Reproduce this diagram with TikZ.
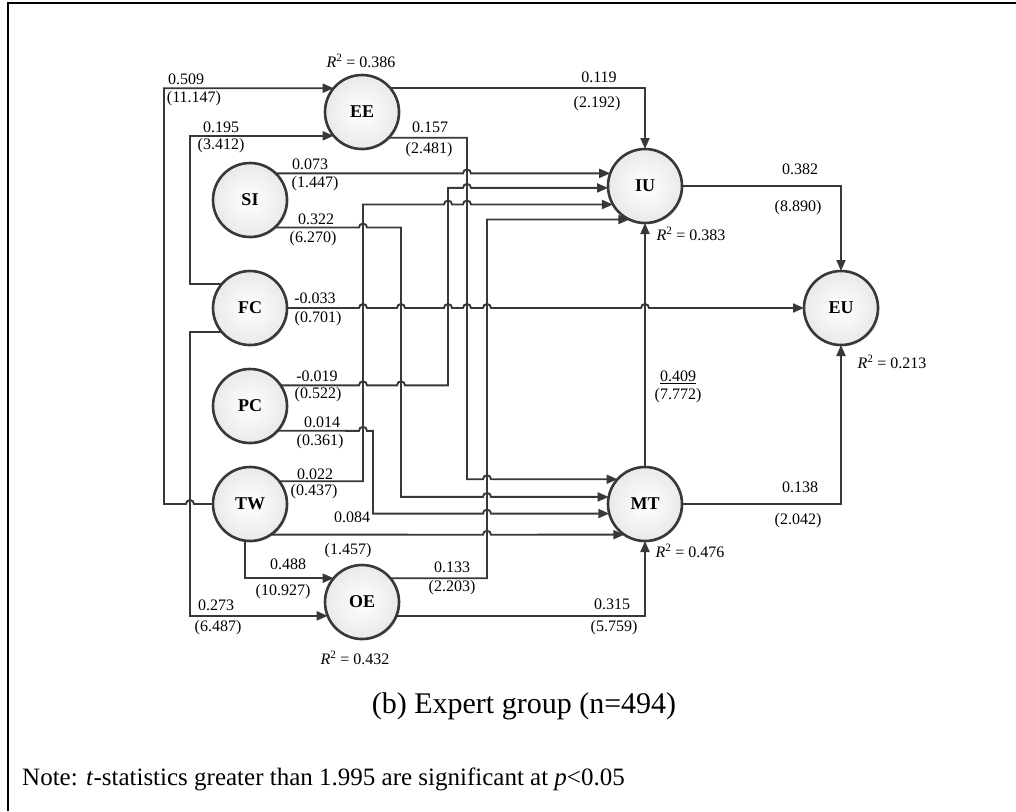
\documentclass[tikz,border=0pt]{standalone}
\usepackage{fontspec}
\setmainfont{Liberation Serif}
\usetikzlibrary{arrows.meta,shadows}
\definecolor{ln}{HTML}{383838}
\begin{document}
\begin{tikzpicture}[x=1pt,y=1pt,
  lv/.style={circle,draw=ln,line width=2.6pt,inner color=white,outer color=gray!17,
    minimum size=74pt,inner sep=0pt,outer sep=0pt,
    font=\fontsize{18}{21}\selectfont\bfseries,
    drop shadow={opacity=0.25,shadow xshift=1.5pt,shadow yshift=-1.5pt}},
  conn/.style={draw=ln,line width=1.9pt,-{Triangle[length=11pt,width=9pt]}},
  lab/.style={inner sep=0pt,font=\fontsize{16}{19}\selectfont}]
\useasboundingbox (0,0) rectangle (1016,-811);
% frame
\draw[line width=2.4pt,black] (8,-811) -- (8,-3) -- (1016,-3);

% latent variables
\node[lv] (EE) at (362,-112) {EE};
\node[lv] (SI) at (250,-200) {SI};
\node[lv] (FC) at (250,-308) {FC};
\node[lv] (PC) at (250,-406) {PC};
\node[lv] (TW) at (250,-504) {TW};
\node[lv] (OE) at (362,-602) {OE};
\node[lv] (IU) at (645,-186) {IU};
\node[lv] (MT) at (645,-504) {MT};
\node[lv] (EU) at (841,-308) {EU};

% TW -> EE
\draw[conn] (TW.west) -- (194,-504) arc[start angle=0,end angle=180,radius=4] -- (164,-504) -- (164,-88.2) -- (EE.140);
% FC -> EE
\draw[conn] (FC.140) -| (190,-200) |- (EE.220);
% FC -> OE
\draw[conn] (FC.220) -| (190,-500) |- (OE.202);
% TW -> OE
\draw[conn] (TW.262) |- (OE.140);
% EE -> IU
\draw[conn] (EE.40) -| (IU.north);
% EE -> MT
\draw[conn] (EE.-44) -- (467,-137.7) -- (467,-479.2) -- (483,-479.2) arc[start angle=180,end angle=0,radius=4] -- (MT.138);
% SI -> IU
\draw[conn] (SI.46) -- (463,-173.4) arc[start angle=180,end angle=0,radius=4] -- (IU.160);
% PC -> IU
\draw[conn] (PC.34) -- (359,-385.3) arc[start angle=180,end angle=0,radius=4]
  -- (397,-385.3) arc[start angle=180,end angle=0,radius=4] -- (448,-385.3) -- (448,-187.9)
  -- (463,-187.9) arc[start angle=180,end angle=0,radius=4] -- (IU.183);
% TW -> IU
\draw[conn] (TW.38) -- (363,-481.2) -- (363,-204.5)
  -- (444,-204.5) arc[start angle=180,end angle=0,radius=4]
  -- (463,-204.5) arc[start angle=180,end angle=0,radius=4] -- (IU.210);
% PC -> MT
\draw[conn] (PC.-42) -- (359,-430.8) arc[start angle=180,end angle=0,radius=4] -- (373,-430.8) -- (373,-513.6)
  -- (483,-513.6) arc[start angle=180,end angle=0,radius=4] -- (MT.195);
% SI -> MT
\draw[conn] (SI.-48) -- (359,-227.5) arc[start angle=180,end angle=0,radius=4] -- (401,-227.5) -- (401,-496.9)
  -- (483,-496.9) arc[start angle=180,end angle=0,radius=4] -- (MT.169);
% OE -> IU
\draw[conn] (OE.40) -- (487,-578.2) |- (IU.245);
% TW -> MT
\draw[conn] (TW.-56) -- (483,-534.7) arc[start angle=180,end angle=0,radius=4] -- (MT.236);
% FC -> EU
\draw[conn] (FC.east) -- (359,-308) arc[start angle=180,end angle=0,radius=4]
  -- (397,-308) arc[start angle=180,end angle=0,radius=4]
  -- (444,-308) arc[start angle=180,end angle=0,radius=4]
  -- (463,-308) arc[start angle=180,end angle=0,radius=4]
  -- (483,-308) arc[start angle=180,end angle=0,radius=4]
  -- (641,-308) arc[start angle=180,end angle=0,radius=4] -- (EU.west);
% MT -> IU
\draw[conn] (MT.north) -- (IU.south);
% IU -> EU
\draw[conn] (IU.east) -| (EU.north);
% MT -> EU
\draw[conn] (MT.east) -| (EU.south);
% OE -> MT
\draw[conn] (OE.-22) -| (MT.south);

% path coefficients
\node[lab] (c1) at (186,-79) {0.509};   \node[lab] (t1) at (194,-99) {(11.147)};
\node[lab] (c2) at (221,-127) {0.195};  \node[lab] (t2) at (221,-146) {(3.412)};
\node[lab] (c3) at (430,-127) {0.157};  \node[lab] (t3) at (429,-150) {(2.481)};
\node[lab] (c4) at (599,-77) {0.119};   \node[lab] (t4) at (597,-104) {(2.192)};
\node[lab] (c5) at (310,-164) {0.073};  \node[lab] (t5) at (315,-184) {(1.447)};
\node[lab] (c6) at (316,-219) {0.322};  \node[lab] (t6) at (313,-239) {(6.270)};
\node[lab] (c7) at (315,-298) {-0.033}; \node[lab] (t7) at (318,-319) {(0.701)};
\node[lab] (c8) at (317,-376) {-0.019}; \node[lab] (t8) at (318,-395) {(0.522)};
\node[lab] (c9) at (322,-422) {0.014};  \node[lab] (t9) at (320,-442) {(0.361)};
\node[lab] (c10) at (315,-474) {0.022}; \node[lab] (t10) at (314,-492) {(0.437)};
\node[lab] (c11) at (352,-517) {0.084}; \node[lab] (t11) at (348,-551) {(1.457)};
\node[lab] (c12) at (288,-564) {0.488}; \node[lab] (t12) at (283,-592) {(10.927)};
\node[lab] (c13) at (216,-605) {0.273}; \node[lab] (t13) at (218,-628) {(6.487)};
\node[lab] (c14) at (452,-567) {0.133}; \node[lab] (t14) at (452,-588) {(2.203)};
\node[lab] (c15) at (612,-604) {0.315}; \node[lab] (t15) at (614,-628) {(5.759)};
\node[lab] (c16) at (678,-377) {\underline{0.409}}; \node[lab] (t16) at (678,-396) {(7.772)};
\node[lab] (c17) at (800,-169) {0.382}; \node[lab] (t17) at (798,-208) {(8.890)};
\node[lab] (c18) at (800,-487) {0.138}; \node[lab] (t18) at (798,-521) {(2.042)};

% R squared
\node[lab] (rEE) at (361,-61) {\textit{R}\textsuperscript{2} = 0.386};
\node[lab] (rIU) at (691,-234) {\textit{R}\textsuperscript{2} = 0.383};
\node[lab] (rEU) at (892,-362) {\textit{R}\textsuperscript{2} = 0.213};
\node[lab] (rMT) at (690,-551) {\textit{R}\textsuperscript{2} = 0.476};
\node[lab] (rOE) at (355,-658) {\textit{R}\textsuperscript{2} = 0.432};

% title and note
\node[inner sep=0pt,font=\fontsize{30}{36}\selectfont] (title) at (524,-706) {(b) Expert group (n=494)};
\node[inner sep=0pt,anchor=west,font=\fontsize{25}{30}\selectfont] (note) at (22,-779)
  {Note: \textit{t}-statistics greater than 1.995 are significant at \textit{p}<0.05};
\end{tikzpicture}
\end{document}
